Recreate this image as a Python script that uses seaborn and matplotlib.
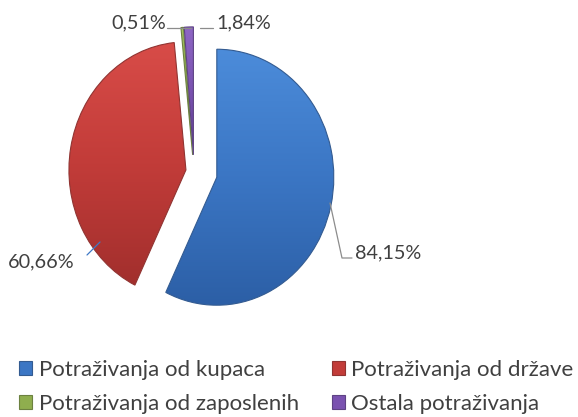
import numpy as np
import matplotlib
matplotlib.use("Agg")
import matplotlib.pyplot as plt
from matplotlib.colors import LinearSegmentedColormap
import seaborn as sns

# ---- data ----
categories = ["Potraživanja od kupaca", "Potraživanja od države",
              "Potraživanja od zaposlenih", "Ostala potraživanja"]
values = [84.15, 60.66, 0.51, 1.84]
value_labels = ["84,15%", "60,66%", "0,51%", "1,84%"]

# ---- style ----
sns.set_theme(style="white")
plt.rcParams["font.family"] = ["Lato", "DejaVu Sans"]
colors = ["#3B76C4", "#C23C39", "#8FAE4E", "#7A52B0"]
tops = ["#4C8CDA", "#D84C48", "#A3C25E", "#8E66C4"]
bottoms = ["#2C5FA6", "#A22F2D", "#71903A", "#5E3C92"]
explode = [0.2, 0.07, 0.13, 0.13]

W, H = 578, 417
CX, CY, RX, RY = 194.0, 171.5, 117.0, 128.0   # pixel centre / radii


def p(px, py):
    """pixel -> data coordinates"""
    return (px - CX) / RX, (CY - py) / RY


fig = plt.figure(figsize=(W / 100, H / 100), dpi=100)
ax = fig.add_axes([0, 0, 1, 1])
wedges, _ = ax.pie(values, colors=colors, startangle=90, counterclock=False,
                   explode=explode, radius=1.0,
                   wedgeprops=dict(linewidth=0.8))
ax.set_aspect("auto")
xlim = (-CX / RX, (W - CX) / RX)
ylim = (-(H - CY) / RY, CY / RY)

# vertical gradient shading clipped to each wedge
grad = np.linspace(0, 1, 256).reshape(-1, 1)
for w, t, b, c in zip(wedges, tops, bottoms, colors):
    w.set_edgecolor(sns.dark_palette(c, n_colors=4)[2])
    cmap = LinearSegmentedColormap.from_list("g", [b, c, t])
    ext = w.get_path().get_extents(w.get_patch_transform())
    im = ax.imshow(grad, cmap=cmap, origin="lower", aspect="auto",
                   extent=(ext.x0, ext.x1, ext.y0, ext.y1), zorder=w.get_zorder() + 0.1)
    im.set_clip_path(w)
    w.set_facecolor("none")
    w.set_zorder(w.get_zorder() + 0.2)

ax.set_xlim(*xlim)
ax.set_ylim(*ylim)
ax.axis("off")

# ---- value labels with leader lines ----
lab_col = "#404040"
fs = 14.3

# 84,15%
x0, y0 = p(330, 203); x1, y1 = p(342, 258); x2, y2 = p(352, 258)
ax.plot([x0, x1, x2], [y0, y1, y2], color="#8c8c8c", lw=0.9)
ax.text(*p(355, 253), value_labels[0], ha="left", va="center", fontsize=fs, color=lab_col)

# 60,66%
x0, y0 = p(100, 242); x1, y1 = p(87, 255)
ax.plot([x0, x1], [y0, y1], color="#3D78C6", lw=0.9)
ax.text(*p(74, 262), value_labels[1], ha="right", va="center", fontsize=fs, color=lab_col)

# 0,51%
x0, y0 = p(167, 28); x1, y1 = p(191, 28)
ax.plot([x0, x1], [y0, y1], color="#8c8c8c", lw=0.9)
ax.text(*p(166, 23), value_labels[2], ha="right", va="center", fontsize=fs, color=lab_col)

# 1,84%
x0, y0 = p(200, 28); x1, y1 = p(213, 28)
ax.plot([x0, x1], [y0, y1], color="#8c8c8c", lw=0.9)
ax.text(*p(216, 23), value_labels[3], ha="left", va="center", fontsize=fs, color=lab_col)

# ---- legend (row-wise order like the reference) ----
order = [0, 2, 1, 3]
leg = fig.legend([wedges[i] for i in order], [categories[i] for i in order],
                 ncol=2, loc="upper left",
                 bbox_to_anchor=(19 / W, 1 - 360 / H), frameon=False,
                 borderpad=0, borderaxespad=0,
                 fontsize=16.0, handlelength=0.6, handleheight=0.6,
                 handletextpad=0.28, columnspacing=1.48, labelspacing=0.62,
                 labelcolor="#404040")
for h, i in zip(leg.legend_handles, order):
    h.set_facecolor(colors[i])
    h.set_edgecolor(sns.dark_palette(colors[i], n_colors=4)[2])

fig.savefig("out.png", dpi=100)
